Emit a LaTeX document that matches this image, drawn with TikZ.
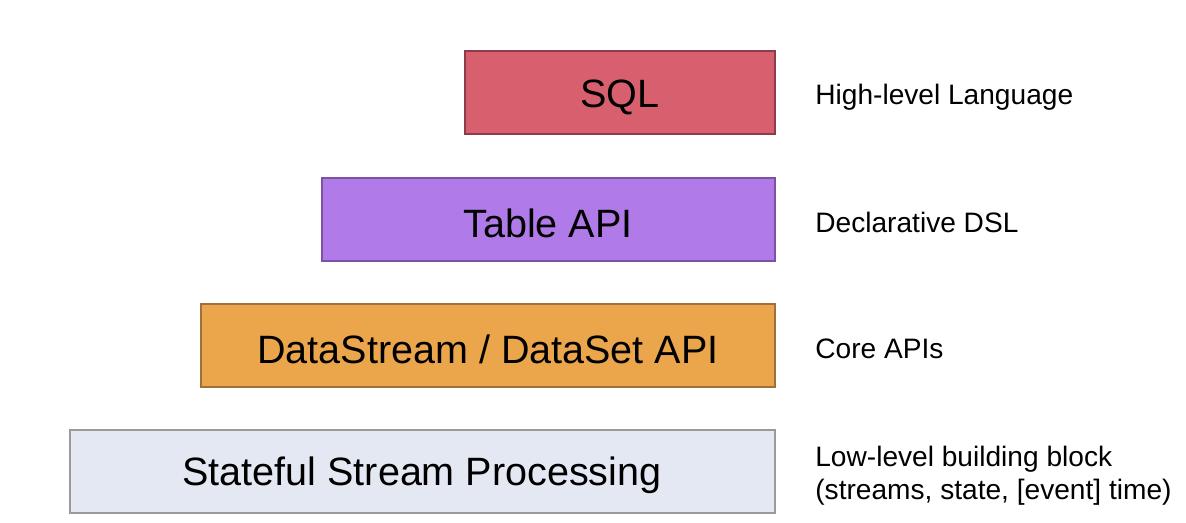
\documentclass[tikz,border=0pt]{standalone}
\usepackage{fontspec}
\setmainfont{Liberation Sans}
\definecolor{sqlfill}{HTML}{D75F6E}
\definecolor{sqldraw}{HTML}{8E3C4A}
\definecolor{tabfill}{HTML}{B17AE9}
\definecolor{tabdraw}{HTML}{7D52A3}
\definecolor{dsfill}{HTML}{EBA54B}
\definecolor{dsdraw}{HTML}{A0703A}
\definecolor{stfill}{HTML}{E4E8F2}
\definecolor{stdraw}{HTML}{9A9A9A}
\tikzset{
  layer/.style={draw, line width=1.2pt},
  boxtext/.style={inner sep=0pt, font=\fontsize{22.5}{26}\selectfont},
  desc/.style={anchor=west, align=left, inner sep=0pt, font=\fontsize{16}{18.9}\selectfont}
}
\begin{document}
\begin{tikzpicture}[x=0.02cm,y=-0.02cm]
\useasboundingbox (0,0) rectangle (1186,523);
\draw[layer, fill=sqlfill, draw=sqldraw] (465,51) rectangle (775,134);
\node[boxtext] (sql) at (620,97) {SQL};
\draw[layer, fill=tabfill, draw=tabdraw] (322,178) rectangle (775,261);
\node[boxtext] (tab) at (548,223) {Table API};
\draw[layer, fill=dsfill, draw=dsdraw] (201,304) rectangle (775,387);
\node[boxtext] (ds) at (488,349) {DataStream / DataSet API};
\draw[layer, fill=stfill, draw=stdraw] (70,430) rectangle (775,513);
\node[boxtext] (st) at (422,475) {Stateful Stream Processing};
\node[desc] (d1) at (815,97) {High-level Language};
\node[desc] (d2) at (815,222) {Declarative DSL};
\node[desc] (d3) at (815,349) {Core APIs};
\node[desc] (d4) at (815,476) {Low-level building block\\(streams, state, [event] time)};
\end{tikzpicture}
\end{document}
